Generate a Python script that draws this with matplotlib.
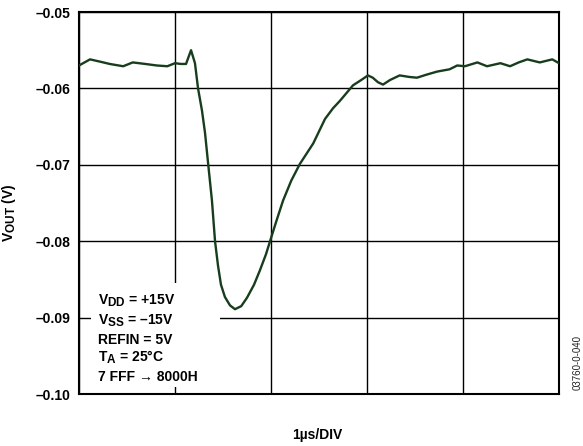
import matplotlib
matplotlib.use("Agg")
import matplotlib.pyplot as plt
from matplotlib.patches import Rectangle
import matplotlib._mathtext as _mt

_mt.SHRINK_FACTOR = 0.85

plt.rcParams['font.family'] = ['Liberation Sans', 'DejaVu Sans']
plt.rcParams['mathtext.fontset'] = 'custom'
plt.rcParams['mathtext.rm'] = 'Liberation Sans:bold'
plt.rcParams['mathtext.bf'] = 'Liberation Sans:bold'
plt.rcParams['mathtext.it'] = 'Liberation Sans:bold'

# time in microseconds, output in volts
time_us = [0.00, 0.115, 0.22, 0.32, 0.46, 0.56, 0.69, 0.81, 0.92, 1.00, 1.06,
           1.115, 1.167, 1.208, 1.240, 1.281, 1.3125, 1.344, 1.385, 1.417,
           1.448, 1.479, 1.52, 1.573, 1.625, 1.69, 1.75, 1.823, 1.885, 1.948,
           1.99, 2.05, 2.125, 2.21, 2.30, 2.44, 2.5625, 2.646, 2.72, 2.854,
           2.94, 3.01, 3.06, 3.115, 3.167, 3.24, 3.34, 3.44, 3.52, 3.62, 3.73,
           3.86, 3.94, 4.02, 4.15, 4.25, 4.39, 4.49, 4.58, 4.67, 4.80, 4.93, 5.00]
vout = [-0.0570, -0.0562, -0.0565, -0.0568, -0.0571, -0.0566, -0.0568, -0.0570,
        -0.0571, -0.0567, -0.0568, -0.0568, -0.0550, -0.0567, -0.0600, -0.0629,
        -0.0658, -0.0697, -0.0747, -0.0800, -0.0832, -0.0857, -0.0873, -0.0884,
        -0.0889, -0.0885, -0.0874, -0.0857, -0.0838, -0.0817, -0.0800, -0.0776,
        -0.0747, -0.0721, -0.0699, -0.0672, -0.0640, -0.0626, -0.0616, -0.0596,
        -0.0589, -0.0583, -0.0586, -0.0592, -0.0595, -0.0589, -0.0583, -0.0585,
        -0.0586, -0.0582, -0.0578, -0.0575, -0.0570, -0.0571, -0.0566, -0.0571,
        -0.0567, -0.0571, -0.0566, -0.0562, -0.0566, -0.0562, -0.0567]

y_ticks = [-0.10, -0.09, -0.08, -0.07, -0.06, -0.05]
y_tick_labels = ['\u20130.10', '\u20130.09', '\u20130.08', '\u20130.07', '\u20130.06', '\u20130.05']
x_grid = [0, 1, 2, 3, 4, 5]

conditions = [r'V$_{\mathrm{DD}}$ = +15V',
              'V$_{\\mathrm{SS}}$ = \u201315V',
              'REFIN = 5V',
              r'T$_{\mathrm{A}}$ = 25°C',
              '7 FFF \u2192 8000H']

fig = plt.figure(figsize=(5.83, 4.46), dpi=100)
ax = fig.add_axes([79/583, 1-394/446, 480/583, 382/446])
ax.set_axisbelow(True)

ax.plot(time_us, vout, color='#173d1c', lw=1.7, zorder=3,
        solid_joinstyle='round', solid_capstyle='round')

ax.set_xlim(0, 5)
ax.set_ylim(-0.10, -0.05)
ax.set_xticks(x_grid)
ax.set_xticklabels([])
ax.set_yticks(y_ticks)
ax.set_yticklabels(y_tick_labels, fontsize=10, fontweight='bold')
ax.tick_params(axis='both', length=0, pad=6)
ax.grid(True, color='black', lw=1.0)
for s in ax.spines.values():
    s.set_linewidth(1.5)
    s.set_color('black')

ax.set_ylabel(r'V$_{\mathrm{OUT}}$ (V)', fontsize=10, fontweight='bold')
ax.yaxis.set_label_coords(-0.128, 0.474)

# white box behind conditions text
ax.add_patch(Rectangle((0.125, -0.09908), 1.345, 0.01355, facecolor='white',
                       edgecolor='none', zorder=1.5))
baselines = [-0.08829, -0.09092, -0.09342, -0.09579, -0.09829]
for txt, yb in zip(conditions, baselines):
    ax.text(0.2, yb, txt, fontsize=10, fontweight='bold', va='baseline', ha='left',
            zorder=4)

fig.text(317/583, 1-435/446, '1\u00b5s/DIV', fontsize=10, fontweight='bold',
         ha='center', va='center')
fig.text(578/583, 1-363/446, '03760-0-040', fontsize=7, rotation=90,
         ha='center', va='center', color='#222222')

fig.savefig('out.png', dpi=100)
